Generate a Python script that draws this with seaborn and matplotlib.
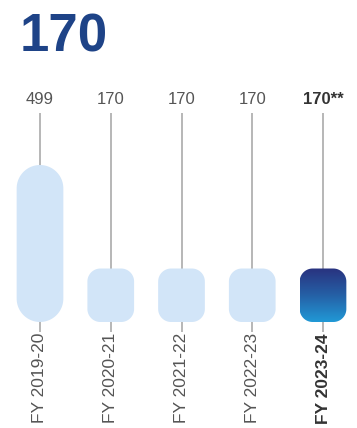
import matplotlib
matplotlib.use("Agg")
import matplotlib.pyplot as plt
import seaborn as sns
import numpy as np
import pandas as pd
from matplotlib.patches import Polygon
from matplotlib.colors import LinearSegmentedColormap

# ---- data ----
categories = ["FY 2019-20", "FY 2020-21", "FY 2021-22", "FY 2022-23", "FY 2023-24"]
values = [499, 170, 170, 170, 170]
value_labels = ["499", "170", "170", "170", "170**"]
headline = "170"

# ---- layout ----
W, H, DPI = 357, 428, 100
sns.set_style("white")
plt.rcParams['font.family'] = ['Liberation Sans', 'DejaVu Sans']
fig = plt.figure(figsize=(W / DPI, H / DPI), dpi=DPI)

px_per_unit = 157 / 499
base_py = 322
ax_bottom_px = H - base_py
ax_top_px = H - 60
ax_h = ax_top_px - ax_bottom_px
spacing = 70.75
left_px = 40 - spacing / 2
ax = fig.add_axes([left_px / W, ax_bottom_px / H, 5 * spacing / W, ax_h / H])

df = pd.DataFrame({"cat": categories, "val": values})
sns.barplot(data=df, x="cat", y="val", ax=ax, width=0.66, color="#d2e5f8")
ax.set_xlim(-0.5, 4.5)
ax.set_ylim(0, ax_h / px_per_unit)

def py_to_data(py):
    return (base_py - py) / px_per_unit

def rounded_rect(x, y, w, h, rx, ry, n=24):
    rx = min(rx, w / 2)
    ry = min(ry, h / 2)
    pts = []
    corners = [(x + w - rx, y + h - ry, 0), (x + rx, y + h - ry, 90),
               (x + rx, y + ry, 180), (x + w - rx, y + ry, 270)]
    for cx, cy, a0 in corners:
        t = np.radians(np.linspace(a0, a0 + 90, n))
        pts.extend(zip(cx + rx * np.cos(t), cy + ry * np.sin(t)))
    return np.array(pts)

light = "#d2e5f8"
cmap = LinearSegmentedColormap.from_list("g", ["#29327f", "#2560a6", "#2199d6"])
radii_px = [23.4, 13, 13, 13, 13]

patches = list(ax.patches)
for i, p in enumerate(patches):
    x, y, w, h = p.get_x(), p.get_y(), p.get_width(), p.get_height()
    p.remove()
    rx = radii_px[i] / spacing
    ry = radii_px[i] / px_per_unit
    last = (i == len(patches) - 1)
    poly = Polygon(rounded_rect(x, y, w, h, rx, ry), closed=True,
                   facecolor=("none" if last else light),
                   edgecolor="none", zorder=2)
    ax.add_patch(poly)
    if last:
        grad = np.linspace(0, 1, 256).reshape(-1, 1)
        im = ax.imshow(grad, extent=[x, x + w, y, y + h], aspect='auto',
                       cmap=cmap, zorder=2, origin='upper')
        im.set_clip_path(poly)

ax.set_xlim(-0.5, 4.5)
ax.set_ylim(0, ax_h / px_per_unit)

# connector lines
for i in range(len(categories)):
    ax.vlines(i, py_to_data(332), py_to_data(113), color="#a3a3a3",
              lw=1.1, zorder=1, clip_on=False)

# value labels
for i, lab in enumerate(value_labels):
    last = (i == len(value_labels) - 1)
    ax.text(i, py_to_data(104), lab, ha='center', va='baseline', fontsize=12,
            color=("#333333" if last else "#555555"),
            fontweight=("bold" if last else "normal"))

ax.set_xticks(range(len(categories)))
ax.set_xticklabels(categories, rotation=90, fontsize=12.5, color="#555555",
                   va='top', ha='center')
ax.get_xticklabels()[-1].set_fontweight('bold')
ax.get_xticklabels()[-1].set_color('#333333')
ax.tick_params(axis='x', length=0, pad=8)
ax.set_yticks([])
ax.set_xlabel("")
ax.set_ylabel("")
for s in ax.spines.values():
    s.set_visible(False)
ax.patch.set_alpha(0)

fig.text(20 / W, (H - 52) / H, headline, fontsize=38, fontweight='bold',
         color="#1e4387", va='baseline', ha='left')

fig.savefig("out.png", dpi=DPI)
